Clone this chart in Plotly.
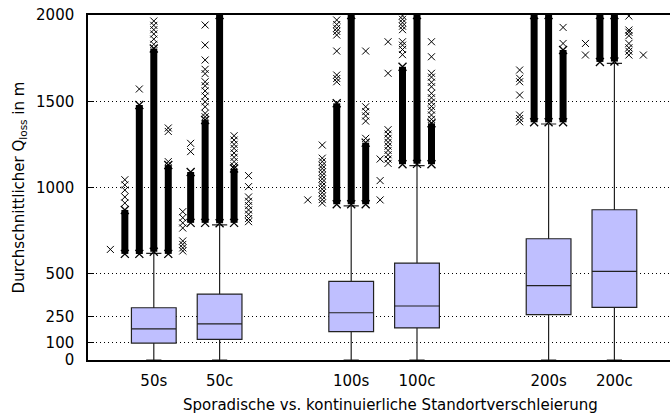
import plotly.graph_objects as go

# Categories and their positions along the x axis (gaps between the 50/100/200 groups)
categories = ["50s", "50c", "100s", "100c", "200s", "200c"]
positions = [1, 2, 4, 5, 7, 8]

# Box statistics per category (metres)
lower_whisker = [0, 0, 0, 0, 0, 0]
q1 = [98, 120, 164, 186, 263, 305]
median = [180, 209, 274, 313, 431, 514]
q3 = [303, 382, 456, 562, 703, 871]
upper_whisker = [618, 783, 893, 1127, 1368, 1720]

# Outliers, spread into jitter slots left/right of each box.
# Isolated outlier values per slot
points_50s = {-3: [641], -2: [1045, 1015, 985, 945, 910], -1: [1571],
              0: [1965, 1940, 1915, 1890, 1860, 1830], 1: [1345, 1325, 1150],
              2: [860, 825, 795, 765, 690, 670, 650, 632]}
points_50c = {-2: [1256, 1208], -1: [1942, 1826, 1739, 1685, 1660, 1613, 1590, 1560, 1530, 1497, 1468, 1430, 1410],
              1: [1300, 1275, 1250, 1227, 1200, 1175, 1150, 1125],
              2: [1069, 1005, 945, 920, 895, 870, 845, 820, 802]}
points_100s = {-3: [928], -2: [1246, 1170, 1150, 1128, 1110, 1090, 1070, 1050, 1030, 1010, 990, 970, 950, 930, 910],
               -1: [1971, 1945, 1923, 1905, 1884, 1791, 1652, 1632, 1613],
               1: [1791, 1468, 1440, 1415, 1385, 1285], 2: [1165, 1040, 928]}
points_100c = {-2: [1845, 1662, 1335, 1310, 1285, 1262, 1240, 1215, 1190, 1165, 1140],
               -1: [1995, 1975, 1955, 1935, 1915, 1845, 1825, 1800, 1770],
               1: [1845, 1758, 1662, 1640, 1610, 1584, 1546, 1520, 1495, 1470, 1449, 1420, 1395]}
points_200s = {-2: [1681, 1633, 1613, 1536, 1420, 1400, 1381], 1: [1928, 1835]}
points_200c = {-2: [1835, 1768], 1: [1994, 1913, 1900, 1880, 1835, 1810, 1790, 1768], 2: [1768]}

# Runs of densely packed outliers per slot: (lowest, highest)
dense_50s = {-2: (615, 870), -1: (615, 1478), 0: (628, 1806), 1: (615, 1130)}
dense_50c = {-2: (795, 1090), -1: (795, 1391), 0: (793, 2000), 1: (795, 1110)}
dense_100s = {-1: (903, 1488), 0: (903, 2000), 1: (903, 1260)}
dense_100c = {-1: (1135, 1700), 0: (1137, 2000), 1: (1135, 1372)}
dense_200s = {-1: (1378, 2000), 0: (1378, 2000), 1: (1378, 1797)}
dense_200c = {-1: (1728, 2000), 0: (1730, 2000)}

points_all = [points_50s, points_50c, points_100s, points_100c, points_200s, points_200c]
dense_all = [dense_50s, dense_50c, dense_100s, dense_100c, dense_200s, dense_200c]

SLOT = 0.22          # horizontal jitter step in axis units
FONT = "DejaVu Sans"
FS = 15

fig = go.Figure()

# Boxes with whiskers from precomputed statistics
fig.add_trace(go.Box(
    x=positions, q1=q1, median=median, q3=q3,
    lowerfence=lower_whisker, upperfence=upper_whisker,
    width=0.68, whiskerwidth=0.34,
    fillcolor="#bfbfff", line=dict(color="#222222", width=1.2),
    boxpoints=False, hoverinfo="skip", showlegend=False,
))

# Dense outlier runs as solid stacks
bx, by = [], []
for pos, runs in zip(positions, dense_all):
    for slot, (lo, hi) in runs.items():
        xx = pos + slot * SLOT
        bx += [xx, xx, None]
        by += [lo, hi, None]
fig.add_trace(go.Scatter(
    x=bx, y=by, mode="lines+markers",
    line=dict(color="#000000", width=7),
    marker=dict(symbol="x-thin", size=8, line=dict(color="#000000", width=1.3)),
    hoverinfo="skip", showlegend=False,
))

# Isolated outliers
px, py = [], []
for pos, slots in zip(positions, points_all):
    for slot, vals in slots.items():
        for v in vals:
            px.append(pos + slot * SLOT)
            py.append(v)
fig.add_trace(go.Scatter(
    x=px, y=py, mode="markers",
    marker=dict(symbol="x-thin", size=7, line=dict(color="#000000", width=1)),
    hoverinfo="skip", showlegend=False,
))

fig.update_layout(
    width=670, height=419,
    margin=dict(l=88, r=0, t=15, b=59),
    paper_bgcolor="white", plot_bgcolor="white",
    font=dict(family=FONT, size=FS, color="#000000"),
    xaxis=dict(
        range=[0, 8.845], tickvals=positions, ticktext=categories,
        showgrid=False, zeroline=False,
        showline=True, mirror=True, linecolor="#000000", linewidth=1.5,
        ticks="", ticklabelstandoff=6,
    ),
    yaxis=dict(
        range=[0, 2000], tickvals=[0, 100, 250, 500, 1000, 1500, 2000],
        showgrid=True, gridcolor="#000000", griddash="1px,3px", gridwidth=1,
        zeroline=False, showline=True, mirror=False, linecolor="#000000", linewidth=1.5,
        ticks="inside", ticklen=6, tickwidth=1, tickcolor="#000000",
        ticklabelstandoff=9,
        title=dict(text="Durchschnittlicher Q<sub>loss</sub> in m",
                   font=dict(family=FONT, size=FS), standoff=8),
    ),
    annotations=[dict(
        text="Sporadische vs. kontinuierliche Standortverschleierung",
        xref="paper", yref="paper", x=(390 - 88) / 582, y=-45 / 345,
        xanchor="center", yanchor="middle", showarrow=False,
        font=dict(family=FONT, size=FS),
    )],
)

fig.write_html("out.html")
